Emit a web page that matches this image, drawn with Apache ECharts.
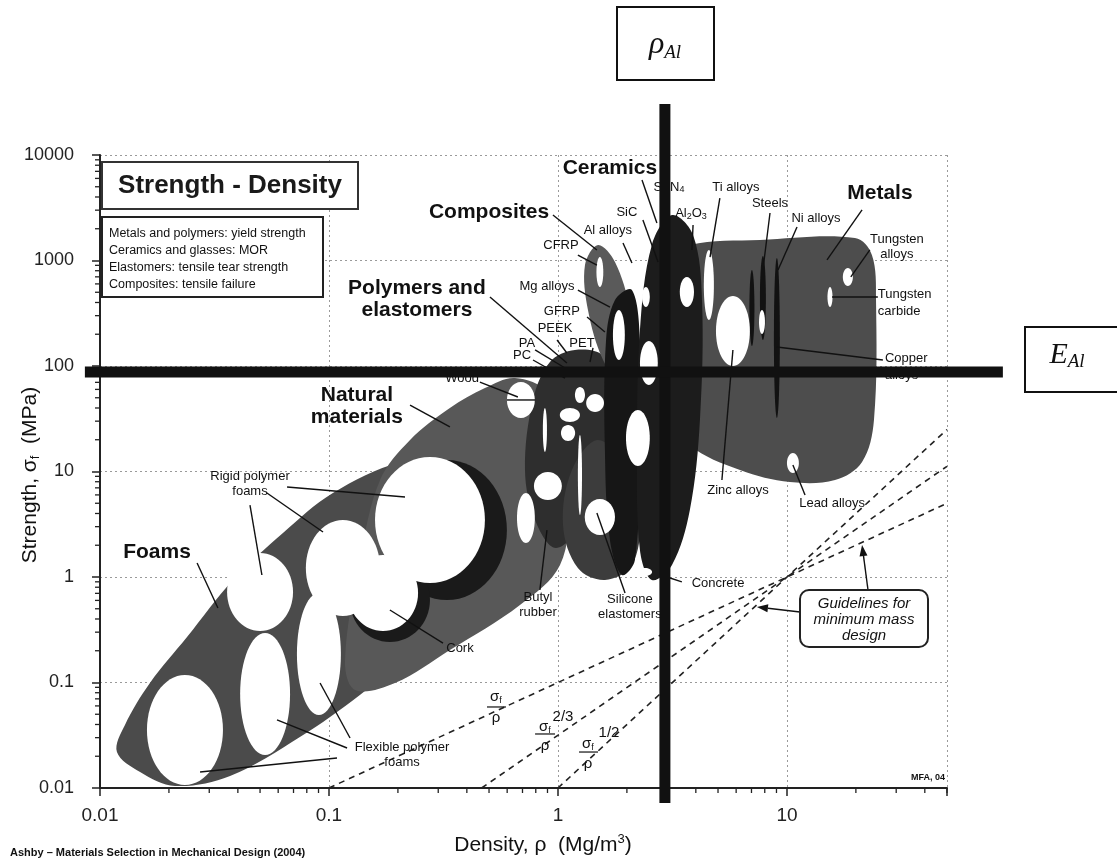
<!DOCTYPE html>
<html>
<head>
<meta charset="utf-8">
<title>Strength - Density</title>
<script src="https://cdn.jsdelivr.net/npm/echarts@6.0.0/dist/echarts.min.js"></script>
<style>
html, body { margin: 0; padding: 0; background: #fff; }
#main { width: 1117px; height: 867px; }
</style>
</head>
<body>
<div id="main"></div>
<script>
// axis ticks (density in Mg/m3, strength in MPa)
var xTickLabels = ['0.01', '0.1', '1', '10'];
var yTickLabels = ['0.01', '0.1', '1', '10', '100', '1000', '10000'];
var minorSteps = [2, 3, 4, 5, 6, 7, 8, 9];
var xDecades = [0.01, 0.1, 1, 10];
var yDecades = [0.01, 0.1, 1, 10, 100, 1000];

// everything below in decades:
// [log10 density, log10 strength]

// family envelopes (outline points)
var foamsOutline = [[-1.926,-1.659],[-1.825,-1.848],[-1.672,-1.981],[-1.432,-1.886],[-1.127,-1.517],[-0.865,-1.118],
  [-0.603,-0.645],[-0.384,-0.171],[-0.275,0.351],[-0.288,0.938],[-0.428,1.156],[-0.690,1.090],[-0.983,0.796],
  [-1.201,0.417],[-1.419,-0.028],[-1.620,-0.569],[-1.782,-1.005],[-1.891,-1.403]];
var naturalOutline = [[-0.188,1.886],[-0.044,1.754],[0.035,1.393],[0.052,0.730],[0.009,0.114],[-0.166,-0.265],
  [-0.472,-0.692],[-0.712,-1.005],[-0.886,-1.071],[-0.930,-0.787],[-0.865,0.161],[-0.777,0.919],[-0.646,1.299],
  [-0.472,1.602],[-0.319,1.791]];
var polymersOutline = [[0.074,2.152],[0.197,2.095],[0.249,1.725],[0.227,1.109],[0.118,0.540],[-0.009,0.275],
  [-0.100,0.540],[-0.144,1.014],[-0.109,1.678],[-0.035,2.038]];
var elastomersOutline = [[0.175,1.299],[0.306,1.014],[0.358,0.540],[0.323,0.114],[0.205,-0.028],[0.087,0.085],
  [0.022,0.493],[0.061,1.014]];
var compositesOutline = [[0.175,3.147],[0.249,2.986],[0.314,2.531],[0.323,2.057],[0.271,1.867],[0.197,2.057],
  [0.131,2.531],[0.118,2.957]];
var glassOutline = [[0.249,2.626],[0.323,2.720],[0.358,2.246],[0.358,1.204],[0.336,0.161],[0.279,0.019],
  [0.227,0.351],[0.205,1.204],[0.210,2.246]];
var metalsOutline = [[0.424,2.957],[0.576,3.147],[0.882,3.194],[1.297,3.213],[1.371,3.052],[1.389,2.626],
  [1.380,1.488],[1.328,1.090],[1.210,0.919],[1.013,0.900],[0.795,1.014],[0.576,1.251],[0.445,1.678],[0.393,2.436]];
var ceramicsOutline = [[0.498,3.431],[0.590,3.242],[0.629,2.626],[0.620,1.488],[0.576,0.635],[0.498,0.114],
  [0.410,-0.028],[0.358,0.256],[0.345,1.204],[0.358,2.341],[0.410,3.147]];

// material bubbles: [centre x, centre y, half width, half height]
var darkPatches = [[-0.485,0.445,0.262,0.664],[-0.734,-0.218,0.175,0.398]];
var metalBars = [[0.847,2.550,0.011,0.360],[0.895,2.645,0.013,0.398],[0.956,2.265,0.013,0.758]];
var whiteBubbles = [
  [-1.629,-1.450,0.166,0.521],[-1.279,-1.109,0.109,0.578],[-1.044,-0.730,0.096,0.578],
  [-1.301,-0.142,0.144,0.370],[-0.939,0.085,0.162,0.455],[-0.559,0.540,0.240,0.597],
  [-0.764,-0.152,0.153,0.360],[-0.162,1.678,0.061,0.171],[0.162,1.649,0.039,0.085],
  [0.052,1.536,0.044,0.066],[0.044,1.365,0.031,0.076],[0.096,1.725,0.022,0.076],
  [-0.044,0.863,0.061,0.133],[-0.140,0.559,0.039,0.237],[0.183,0.569,0.066,0.171],
  [0.266,2.294,0.026,0.237],[0.397,2.028,0.039,0.209],[0.349,1.318,0.052,0.265],
  [0.384,2.654,0.017,0.095],[0.563,2.701,0.031,0.142],[0.659,2.768,0.022,0.332],
  [0.764,2.332,0.074,0.332],[0.891,2.417,0.013,0.114],[1.266,2.844,0.022,0.085],
  [1.188,2.654,0.011,0.095],[1.026,1.081,0.026,0.095],[0.380,0.047,0.031,0.038],
  [0.183,2.891,0.015,0.142],[-0.057,1.393,0.009,0.209],[0.096,0.967,0.009,0.379]
];

// leader lines: [x1, y1, x2, y2]
var leaders = [
  [0.367,3.763,0.432,3.355],[0.371,3.384,0.437,2.986],[0.590,3.336,0.585,3.100],[0.707,3.592,0.664,3.033],
  [0.926,3.450,0.895,2.910],[1.044,3.318,0.961,2.910],[1.328,3.479,1.175,3.005],[1.362,3.100,1.279,2.844],
  [1.197,2.654,1.397,2.654],[0.956,2.180,1.419,2.057],[0.764,2.152,0.716,0.919],[1.079,0.777,1.026,1.062],
  [-0.022,3.431,0.170,3.100],[0.284,3.166,0.323,2.976],[0.087,3.052,0.170,2.957],[0.087,2.720,0.227,2.559],
  [0.127,2.464,0.205,2.322],[-0.004,2.246,0.039,2.123],[0.153,2.171,0.140,2.038],[-0.100,2.152,0.031,1.981],
  [-0.109,2.057,0.031,1.886],[-0.297,2.654,0.039,2.028],[-0.341,1.848,-0.175,1.706],[-0.223,1.678,-0.100,1.678],
  [-0.646,1.630,-0.472,1.422],[-1.576,0.133,-1.485,-0.294],[-1.345,0.682,-1.293,0.019],[-1.271,0.796,-1.026,0.427],
  [-1.183,0.853,-0.668,0.758],[-0.502,-0.626,-0.734,-0.313],[-0.908,-1.526,-1.039,-1.005],[-0.921,-1.621,-1.227,-1.355],
  [-0.965,-1.716,-1.563,-1.848],[-0.079,-0.123,-0.048,0.445],[0.293,-0.152,0.170,0.607],[0.541,-0.047,0.476,0.000]
];
var fractionBars = [[-0.310,-1.232,-0.227,-1.232],[-0.100,-1.488,-0.013,-1.488],[0.092,-1.659,0.175,-1.659]];
var guideArrows = [[1.354,-0.123,1.328,0.303],[1.057,-0.332,0.869,-0.284]];

// aluminium reference lines: [x1, y1, x2, y2]
var alLines = [[0.467,4.483,0.467,-2.142],[-2.066,1.943,1.943,1.943]];

// labels: [x, y, text]
var familyLabels = [
  [0.227,3.877,'Ceramics'],[-0.301,3.460,'Composites'],[1.406,3.640,'Metals'],
  [-0.616,2.635,'Polymers and\nelastomers'],[-0.878,1.621,'Natural\nmaterials'],[-1.751,0.237,'Foams']
];
var materialLabels = [
  [0.485,3.697,'Si{s|3}N{s|4}'],[0.777,3.697,'Ti alloys'],[0.301,3.460,'SiC'],[0.581,3.450,'Al{s|2}O{s|3}'],
  [0.926,3.545,'Steels'],[1.127,3.403,'Ni alloys'],[0.218,3.289,'Al alloys'],[0.013,3.147,'CFRP'],
  [1.480,3.128,'Tungsten\nalloys'],[-0.048,2.758,'Mg alloys'],[0.017,2.521,'GFRP'],[-0.013,2.360,'PEEK'],
  [0.105,2.218,'PET'],[-0.135,2.218,'PA'],[-0.157,2.104,'PC'],[-0.419,1.886,'Wood'],
  [-1.345,0.882,'Rigid polymer\nfoams'],[-0.428,-0.673,'Cork'],[-0.681,-1.687,'Flexible polymer\nfoams'],
  [-0.087,-0.265,'Butyl\nrubber'],[0.314,-0.284,'Silicone\nelastomers'],[0.699,-0.057,'Concrete'],
  [0.786,0.825,'Zinc alloys'],[1.197,0.701,'Lead alloys']
];
var leftLabels = [[1.397,2.597,'Tungsten\ncarbide'],[1.428,1.991,'Copper\nalloys']];
var fractionLabels = [
  [-0.271,-1.137,'σ{s|f}'],[-0.271,-1.336,'ρ'],[-0.057,-1.422,'σ{s|f}'],[-0.057,-1.602,'ρ'],[0.022,-1.327,'2/3'],
  [0.131,-1.583,'σ{s|f}'],[0.131,-1.773,'ρ'],[0.223,-1.479,'1/2']
];
var stampLabels = [[1.616,-1.896,'MFA, 04']];

// minimum mass guidelines (density, strength)
var guideSigma = [[0.1, 0.01], [50, 5]];
var guideSigma23 = [[0.464, 0.01], [50, 11.2]];
var guideSigma12 = [[1, 0.01], [50, 25]];

var SANS = 'Liberation Sans, Arial, sans-serif';
var SERIF = 'Liberation Serif, Times New Roman, serif';

function toPx(api, lx, ly) {
  return api.coord([Math.pow(10, lx), Math.pow(10, ly)]);
}
function anchors(list) {
  return list.map(function (d) { return [Math.pow(10, d[0]), Math.pow(10, d[1])]; });
}

var envelopeList = [
  { pts: foamsOutline, fill: '#4b4b4b' },
  { pts: naturalOutline, fill: '#585858' },
  { pts: polymersOutline, fill: '#2e2e2e' },
  { pts: elastomersOutline, fill: '#3c3c3c' },
  { pts: compositesOutline, fill: '#5a5a5a' },
  { pts: metalsOutline, fill: '#4d4d4d' },
  { pts: glassOutline, fill: '#161616' },
  { pts: ceramicsOutline, fill: '#1c1c1c' }
];
var bubbleList = [];
darkPatches.forEach(function (d) { bubbleList.push({ d: d, fill: '#1a1a1a' }); });
metalBars.forEach(function (d) { bubbleList.push({ d: d, fill: '#121212' }); });
whiteBubbles.forEach(function (d) { bubbleList.push({ d: d, fill: '#ffffff' }); });

var xMinor = [], yMinor = [];
xDecades.forEach(function (dec) {
  minorSteps.forEach(function (m) { if (dec * m <= 50) xMinor.push(dec * m); });
});
yDecades.forEach(function (dec) {
  minorSteps.forEach(function (m) { yMinor.push(dec * m); });
});

var subRich = {
  s: { fontSize: 9, fontFamily: SANS, verticalAlign: 'bottom', lineHeight: 14, padding: [5, 0, 0, 0] }
};

function textRender(list, size, weight, align, lineH) {
  return function (params, api) {
    var d = list[params.dataIndex];
    var p = toPx(api, d[0], d[1]);
    return {
      type: 'text', x: p[0], y: p[1],
      style: {
        text: d[2], fontSize: size, fontWeight: weight, fontFamily: SANS, fill: '#111',
        align: align, verticalAlign: 'middle', lineHeight: lineH, rich: subRich
      }
    };
  };
}
function segRender(list, width, color) {
  return function (params, api) {
    var d = list[params.dataIndex];
    var a = toPx(api, d[0], d[1]), b = toPx(api, d[2], d[3]);
    return {
      type: 'line', shape: { x1: a[0], y1: a[1], x2: b[0], y2: b[1] },
      style: { stroke: color, lineWidth: width, lineCap: 'butt' }
    };
  };
}
function fmtTick(list) {
  return function (v) {
    var s = String(Number(Number(v).toPrecision(4)));
    return list.indexOf(s) >= 0 ? s : '';
  };
}

var myChart = echarts.init(document.getElementById('main'));

var option = {
  animation: false,
  backgroundColor: '#fff',
  grid: { left: 100, right: 170, top: 155, bottom: 79, outerBoundsMode: 'none' },
  xAxis: {
    type: 'log', logBase: 10, min: 0.01, max: 50,
    axisLine: { lineStyle: { color: '#222', width: 2 } },
    axisTick: { length: 8, lineStyle: { color: '#222', width: 1.5 } },
    axisLabel: { fontSize: 19, fontFamily: SANS, color: '#222', margin: 18, formatter: fmtTick(xTickLabels) },
    splitLine: { show: true, lineStyle: { color: '#9a9a9a', type: [2, 3], width: 1 } }
  },
  yAxis: {
    type: 'log', logBase: 10, min: 0.01, max: 10000,
    axisLine: { lineStyle: { color: '#222', width: 2 } },
    axisTick: { length: 8, lineStyle: { color: '#222', width: 1.5 } },
    axisLabel: { fontSize: 18, fontFamily: SANS, color: '#222', margin: 26, formatter: fmtTick(yTickLabels) },
    splitLine: { show: true, lineStyle: { color: '#9a9a9a', type: [2, 3], width: 1 } }
  },
  graphic: [
    // title box
    { type: 'rect', z: 100, shape: { x: 102, y: 162, width: 256, height: 47 },
      style: { fill: '#fff', stroke: '#333', lineWidth: 2 } },
    { type: 'text', z: 101, x: 230, y: 186,
      style: { text: 'Strength - Density', fontSize: 26, fontWeight: 'bold', fontFamily: SANS, fill: '#1a1a1a',
        align: 'center', verticalAlign: 'middle' } },
    // notes box
    { type: 'rect', z: 100, shape: { x: 102, y: 217, width: 221, height: 80 },
      style: { fill: '#fff', stroke: '#222', lineWidth: 2 } },
    { type: 'text', z: 101, x: 109, y: 225,
      style: { text: 'Metals and polymers: yield strength\nCeramics and glasses: MOR\nElastomers: tensile tear strength\nComposites: tensile failure',
        fontSize: 12.5, fontFamily: SANS, fill: '#111', lineHeight: 17, align: 'left', verticalAlign: 'top' } },
    // guidelines box
    { type: 'rect', z: 100, shape: { x: 800, y: 590, width: 128, height: 57, r: 9 },
      style: { fill: '#fff', stroke: '#222', lineWidth: 2 } },
    { type: 'text', z: 101, x: 864, y: 620,
      style: { text: 'Guidelines for\nminimum mass\ndesign', fontSize: 15, fontStyle: 'italic', fontFamily: SANS,
        fill: '#111', lineHeight: 16, align: 'center', verticalAlign: 'middle' } },
    // aluminium boxes
    { type: 'rect', z: 100, shape: { x: 617, y: 7, width: 97, height: 73 },
      style: { fill: '#fff', stroke: '#111', lineWidth: 2 } },
    { type: 'text', z: 101, x: 665, y: 45,
      style: { text: '{r|ρ}{s|Al}', align: 'center', verticalAlign: 'middle',
        rich: { r: { fontSize: 32, fontStyle: 'italic', fontFamily: SERIF, fill: '#111', lineHeight: 34, verticalAlign: 'middle' },
                s: { fontSize: 19, fontStyle: 'italic', fontFamily: SERIF, fill: '#111', lineHeight: 34, verticalAlign: 'bottom', padding: [8, 0, 0, 0] } } } },
    { type: 'rect', z: 100, shape: { x: 1025, y: 327, width: 100, height: 65 },
      style: { fill: '#fff', stroke: '#111', lineWidth: 2 } },
    { type: 'text', z: 101, x: 1067, y: 355,
      style: { text: '{r|E}{s|Al}', align: 'center', verticalAlign: 'middle',
        rich: { r: { fontSize: 30, fontStyle: 'italic', fontFamily: SERIF, fill: '#111', lineHeight: 32, verticalAlign: 'middle' },
                s: { fontSize: 19, fontStyle: 'italic', fontFamily: SERIF, fill: '#111', lineHeight: 32, verticalAlign: 'bottom', padding: [8, 0, 0, 0] } } } },
    // axis names
    { type: 'text', z: 101, x: 543, y: 845,
      style: { text: 'Density, ρ  (Mg/m{sup|3})', fontSize: 21, fontFamily: SANS, fill: '#111',
        align: 'center', verticalAlign: 'middle', lineHeight: 24,
        rich: { sup: { fontSize: 13, fontFamily: SANS, verticalAlign: 'top', lineHeight: 24, padding: [0, 0, 8, 0] } } } },
    { type: 'text', z: 101, x: 30, y: 475, rotation: Math.PI / 2,
      style: { text: 'Strength, σ{sub|f}  (MPa)', fontSize: 21, fontFamily: SANS, fill: '#111',
        align: 'center', verticalAlign: 'middle', lineHeight: 24,
        rich: { sub: { fontSize: 13, fontFamily: SANS, verticalAlign: 'bottom', lineHeight: 24, padding: [8, 0, 0, 0] } } } },
    // source
    { type: 'text', z: 101, x: 10, y: 853,
      style: { text: 'Ashby \u2013 Materials Selection in Mechanical Design (2004)', fontSize: 11, fontWeight: 'bold',
        fontFamily: SANS, fill: '#111', align: 'left', verticalAlign: 'middle' } }
  ],
  series: [
    {
      name: 'envelopes', type: 'custom', coordinateSystem: 'cartesian2d', z: 2, silent: true,
      data: envelopeList.map(function (e) { return [Math.pow(10, e.pts[0][0]), Math.pow(10, e.pts[0][1])]; }),
      renderItem: function (params, api) {
        var env = envelopeList[params.dataIndex];
        return {
          type: 'polygon',
          shape: { points: env.pts.map(function (p) { return toPx(api, p[0], p[1]); }), smooth: 0.35 },
          style: { fill: env.fill }
        };
      }
    },
    {
      name: 'bubbles', type: 'custom', coordinateSystem: 'cartesian2d', z: 3, silent: true,
      data: bubbleList.map(function (b) { return [Math.pow(10, b.d[0]), Math.pow(10, b.d[1])]; }),
      renderItem: function (params, api) {
        var b = bubbleList[params.dataIndex].d;
        var c = toPx(api, b[0], b[1]);
        var ex = toPx(api, b[0] + b[2], b[1]);
        var ey = toPx(api, b[0], b[1] + b[3]);
        return {
          type: 'ellipse',
          shape: { cx: c[0], cy: c[1], rx: Math.abs(ex[0] - c[0]), ry: Math.abs(c[1] - ey[1]) },
          style: { fill: bubbleList[params.dataIndex].fill }
        };
      }
    },
    { name: 'sigma/rho', type: 'line', data: guideSigma, symbol: 'none', z: 4, silent: true,
      lineStyle: { color: '#222', width: 1.6, type: [6, 5] } },
    { name: 'sigma^2/3/rho', type: 'line', data: guideSigma23, symbol: 'none', z: 4, silent: true,
      lineStyle: { color: '#222', width: 1.6, type: [6, 5] } },
    { name: 'sigma^1/2/rho', type: 'line', data: guideSigma12, symbol: 'none', z: 4, silent: true,
      lineStyle: { color: '#222', width: 1.6, type: [6, 5] } },
    { name: 'leaders', type: 'custom', coordinateSystem: 'cartesian2d', z: 5, silent: true,
      data: anchors(leaders), renderItem: segRender(leaders, 1.4, '#111') },
    { name: 'fraction bars', type: 'custom', coordinateSystem: 'cartesian2d', z: 5, silent: true,
      data: anchors(fractionBars), renderItem: segRender(fractionBars, 1.2, '#111') },
    {
      name: 'arrows', type: 'custom', coordinateSystem: 'cartesian2d', z: 5, silent: true,
      data: anchors(guideArrows),
      renderItem: function (params, api) {
        var d = guideArrows[params.dataIndex];
        var a = toPx(api, d[0], d[1]), b = toPx(api, d[2], d[3]);
        var ang = Math.atan2(b[1] - a[1], b[0] - a[0]);
        var L = 11, W = 4;
        var bx = b[0] - L * Math.cos(ang), by = b[1] - L * Math.sin(ang);
        return {
          type: 'group',
          children: [
            { type: 'line', shape: { x1: a[0], y1: a[1], x2: bx, y2: by }, style: { stroke: '#111', lineWidth: 1.4 } },
            { type: 'polygon', shape: { points: [b, [bx + W * Math.sin(ang), by - W * Math.cos(ang)],
              [bx - W * Math.sin(ang), by + W * Math.cos(ang)]] }, style: { fill: '#111' } }
          ]
        };
      }
    },
    { name: 'family labels', type: 'custom', coordinateSystem: 'cartesian2d', z: 6, silent: true,
      data: anchors(familyLabels), renderItem: textRender(familyLabels, 21, 'bold', 'center', 22) },
    { name: 'material labels', type: 'custom', coordinateSystem: 'cartesian2d', z: 6, silent: true,
      data: anchors(materialLabels), renderItem: textRender(materialLabels, 13, 'normal', 'center', 15) },
    { name: 'left labels', type: 'custom', coordinateSystem: 'cartesian2d', z: 6, silent: true,
      data: anchors(leftLabels), renderItem: textRender(leftLabels, 13, 'normal', 'left', 17) },
    { name: 'fraction labels', type: 'custom', coordinateSystem: 'cartesian2d', z: 6, silent: true,
      data: anchors(fractionLabels), renderItem: textRender(fractionLabels, 15, 'normal', 'center', 16) },
    { name: 'stamp', type: 'custom', coordinateSystem: 'cartesian2d', z: 6, silent: true,
      data: anchors(stampLabels), renderItem: textRender(stampLabels, 9, 'bold', 'center', 10) },
    {
      name: 'x minor ticks', type: 'custom', coordinateSystem: 'cartesian2d', z: 6, silent: true, clip: false,
      data: xMinor.map(function (v) { return [v, 0.01]; }),
      renderItem: function (params, api) {
        var p = api.coord([xMinor[params.dataIndex], 0.01]);
        return { type: 'line', shape: { x1: p[0], y1: p[1], x2: p[0], y2: p[1] + 5 }, style: { stroke: '#222', lineWidth: 1.3 } };
      }
    },
    {
      name: 'y minor ticks', type: 'custom', coordinateSystem: 'cartesian2d', z: 6, silent: true, clip: false,
      data: yMinor.map(function (v) { return [0.01, v]; }),
      renderItem: function (params, api) {
        var p = api.coord([0.01, yMinor[params.dataIndex]]);
        return { type: 'line', shape: { x1: p[0] - 5, y1: p[1], x2: p[0], y2: p[1] }, style: { stroke: '#222', lineWidth: 1.3 } };
      }
    },
    { name: 'aluminium', type: 'custom', coordinateSystem: 'cartesian2d', z: 20, silent: true, clip: false,
      data: anchors(alLines), renderItem: segRender(alLines, 11, '#111') }
  ]
};

myChart.setOption(option);
</script>
</body>
</html>
